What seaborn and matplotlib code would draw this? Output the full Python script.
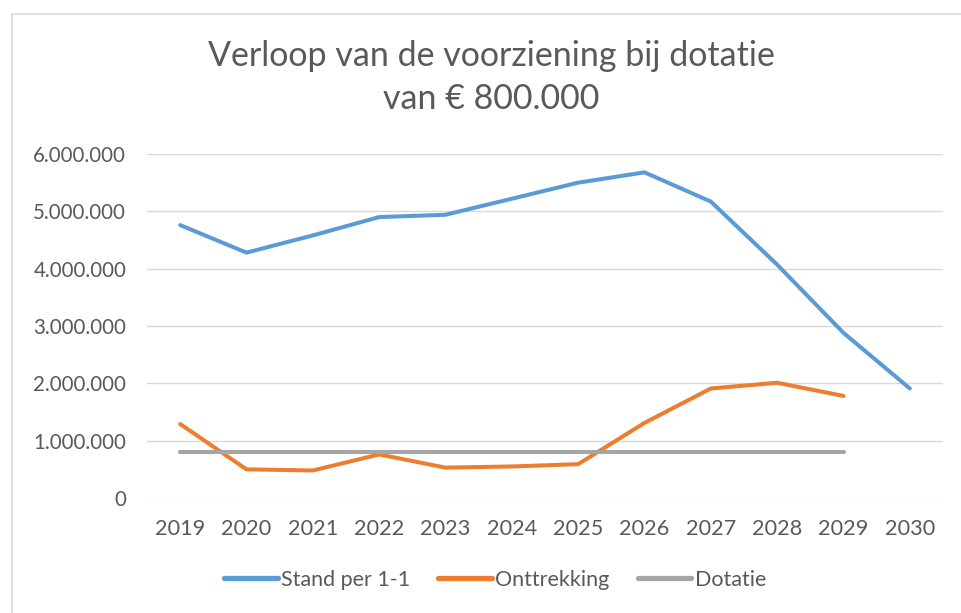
import numpy as np
import matplotlib
matplotlib.use("Agg")
import matplotlib.pyplot as plt
import matplotlib.ticker as mticker
from matplotlib.patches import Rectangle
import pandas as pd
import seaborn as sns

#data
years = [2019, 2020, 2021, 2022, 2023, 2024, 2025, 2026, 2027, 2028, 2029, 2030]
stand = [4760000, 4280000, 4580000, 4900000, 4940000, 5220000, 5500000, 5680000, 5170000, 4070000, 2880000, 1910000]
onttrekking = [1290000, 500000, 480000, 760000, 530000, 550000, 590000, 1310000, 1910000, 2010000, 1780000, np.nan]
dotatie = [800000] * 11 + [np.nan]
series_names = ["Stand per 1-1", "Onttrekking", "Dotatie"]
colors = ["#5B9BD5", "#ED7D31", "#A5A5A5"]

df = pd.DataFrame({"jaar": years, series_names[0]: stand,
                   series_names[1]: onttrekking, series_names[2]: dotatie})
long_df = df.melt(id_vars="jaar", var_name="reeks", value_name="waarde").dropna()

sns.set_theme(style="white")
plt.rcParams["font.family"] = ["Lato", "DejaVu Sans"]
txt_color = "#595959"

fig = plt.figure(figsize=(9.61, 6.13), dpi=100)
ax = fig.add_axes([147 / 961, 1 - 498 / 613, 796 / 961, 344 / 613])

#chart border
fig.patches.append(Rectangle((12 / 961, -0.01), 1.0, 1 - 14 / 613 + 0.01, transform=fig.transFigure,
                             fill=False, edgecolor="#D9D9D9", linewidth=1.2))

sns.lineplot(data=long_df, x="jaar", y="waarde", hue="reeks", hue_order=series_names,
             palette=colors, linewidth=2.9, ax=ax, legend=False)
for line in ax.lines:
    line.set_solid_capstyle("round")

ax.set_xlim(2018.5, 2030.5)
ax.set_ylim(0, 6000000)
ax.set_xticks(years)
ax.set_yticks(np.arange(0, 6000001, 1000000))
ax.yaxis.set_major_formatter(mticker.FuncFormatter(lambda v, p: f"{int(v):,}".replace(",", ".")))
ax.grid(axis="y", color="#D9D9D9", linewidth=1.0)
ax.set_axisbelow(True)
for s in ax.spines.values():
    s.set_visible(False)
ax.tick_params(axis="both", length=0, labelcolor=txt_color)
ax.tick_params(axis="x", pad=15, labelsize=15.6)
ax.tick_params(axis="y", pad=15, labelsize=14.8)
ax.set_xlabel("")
ax.set_ylabel("")

fig.text(491 / 961, 1 - 56 / 613, "Verloop van de voorziening bij dotatie", ha="center", va="center",
         fontsize=24.5, color=txt_color)
fig.text(491 / 961, 1 - 99 / 613, "van € 800.000", ha="center", va="center",
         fontsize=24.5, color=txt_color)

handles = [plt.Line2D([], [], color=c, linewidth=3.8) for c in colors]
fig.legend(handles, series_names, loc="center", bbox_to_anchor=(495 / 961, 1 - 580 / 613), ncol=3,
           frameon=False, fontsize=15.5, handlelength=2.5, handletextpad=0.15, columnspacing=1.3,
           labelcolor=txt_color)

fig.savefig("out.png", dpi=100)
